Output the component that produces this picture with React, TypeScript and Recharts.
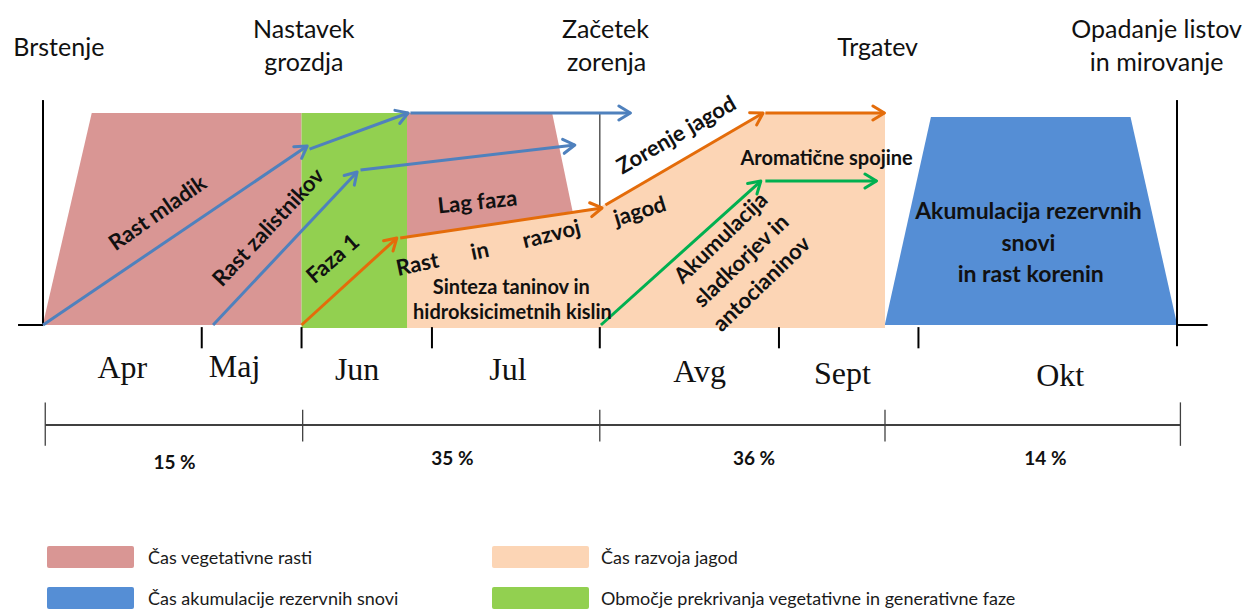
import React from "react";
import {
  ComposedChart,
  Area,
  Line,
  Scatter,
  XAxis,
  YAxis,
  ReferenceLine,
  Legend,
} from "recharts";

const W = 1248;
const H = 609;

// x: position in the season (0 = budburst axis, 100 = dormancy axis)
// y: level inside the bands (0 = baseline, 100 = top of the bands)
const X_DOMAIN: [number, number] = [-3.79, 106.26];
const Y_DOMAIN: [number, number] = [-133.96, 153.3];

const PINK = "#D99694";
const PEACH = "#FCD5B5";
const BLUE_BAND = "#558ED5";
const GREEN_BAND = "#92D050";
const ARROW = { blue: "#4F81BD", orange: "#E46C0A", green: "#00B050" };

// bands, as [low, high] ranges
const vegetativeEarly = [
  { x: 0, r: [0, 0.5] },
  { x: 4.3, r: [0, 100] },
  { x: 22.8, r: [0, 100] },
];
const vegetativeLate = [
  { x: 32.1, r: [41.3, 100] },
  { x: 44.9, r: [52.0, 100] },
  { x: 46.7, r: [53.6, 53.6] },
];
const berryBand = [
  { x: 32.1, r: [-1.4, 41.3] },
  { x: 49.1, r: [-1.4, 55.7] },
  { x: 63.7, r: [-1.4, 100] },
  { x: 74.25, r: [-1.4, 100] },
];
const overlapBand = [
  { x: 22.8, r: [-1.4, 100] },
  { x: 32.1, r: [-1.4, 100] },
];
const reserveBand = [
  { x: 74.25, r: [0, 0.5] },
  { x: 78.3, r: [0, 98.1] },
  { x: 95.9, r: [0, 98.1] },
  { x: 100, r: [0, 0.5] },
];

// arrows
const shootArrows = [
  [{ x: 0, y: 0 }, { x: 23.3, y: 84.4 }],
  [{ x: 23.5, y: 83.0 }, { x: 32.2, y: 100 }],
  [{ x: 32.4, y: 100 }, { x: 51.8, y: 100 }],
];
const lateralArrows = [
  [{ x: 15.0, y: 0 }, { x: 27.7, y: 72.2 }],
  [{ x: 28.0, y: 73.1 }, { x: 46.9, y: 84.9 }],
];
const berryArrows = [
  [{ x: 22.8, y: 0 }, { x: 31.2, y: 41.0 }],
  [{ x: 31.5, y: 41.0 }, { x: 49.3, y: 55.2 }],
  [{ x: 49.6, y: 56.6 }, { x: 63.5, y: 100 }],
  [{ x: 63.7, y: 100 }, { x: 74.2, y: 100 }],
];
const sugarArrows = [
  [{ x: 49.2, y: 0 }, { x: 63.3, y: 67.9 }],
  [{ x: 63.7, y: 67.9 }, { x: 73.5, y: 67.9 }],
];

// axes and time line
const monthTicks = [14.0, 22.8, 34.3, 49.1, 64.9, 77.2];
const shareTicks = [0.2, 22.9, 49.1, 74.25, 100.3];
const shareLineY = -47.2;

const stageLabels = [
  { x: 1.4, y: 131.4, text: "Brstenje" },
  { x: 23.0, y: 140.3, text: "Nastavek" },
  { x: 23.0, y: 124.3, text: "grozdja" },
  { x: 49.6, y: 140.3, text: "Začetek" },
  { x: 49.7, y: 124.3, text: "zorenja" },
  { x: 73.6, y: 131.4, text: "Trgatev" },
  { x: 98.2, y: 140.3, text: "Opadanje listov" },
  { x: 98.2, y: 124.3, text: "in mirovanje" },
];

const monthLabels = [
  { x: 7.0, y: -19.6, text: "Apr" },
  { x: 16.9, y: -19.3, text: "Maj" },
  { x: 27.7, y: -20.8, text: "Jun" },
  { x: 41.0, y: -20.8, text: "Jul" },
  { x: 57.9, y: -21.7, text: "Avg" },
  { x: 70.5, y: -22.6, text: "Sept" },
  { x: 89.7, y: -23.6, text: "Okt" },
];

const shareLabels = [
  { x: 11.6, y: -64.2, text: "15 %" },
  { x: 36.1, y: -62.5, text: "35 %" },
  { x: 62.7, y: -62.5, text: "36 %" },
  { x: 88.4, y: -62.5, text: "14 %" },
];

const processNotes = [
  { x: 10.05, y: 53.3, tilt: -35, text: "Rast mladik" },
  { x: 19.8, y: 46.5, tilt: -47, text: "Rast zalistnikov" },
  { x: 25.5, y: 31.6, tilt: -41, text: "Faza 1" },
  { x: 38.3, y: 58.5, tilt: -6, text: "Lag faza" },
  { x: 33.0, y: 29.2, tilt: -12, text: "Rast" },
  { x: 38.5, y: 35.4, tilt: -12, text: "in" },
  { x: 44.8, y: 43.4, tilt: -14, text: "razvoj" },
  { x: 52.6, y: 54.2, tilt: -17, text: "jagod" },
  { x: 55.8, y: 90.1, tilt: -30, text: "Zorenje jagod" },
  { x: 59.7, y: 41.5, tilt: -44, text: "Akumulacija" },
  { x: 61.5, y: 30.7, tilt: -44, text: "sladkorjev in" },
  { x: 63.3, y: 19.8, tilt: -44, text: "antocianinov" },
];

const compoundNotes = [
  { x: 41.3, y: 18.4, text: "Sinteza taninov in" },
  { x: 41.4, y: 6.6, text: "hidroksicimetnih kislin" },
  { x: 69.1, y: 79.2, text: "Aromatične spojine" },
];

const reserveNotes = [
  { x: 86.9, y: 54.2, text: "Akumulacija rezervnih" },
  { x: 86.9, y: 39.2, text: "snovi" },
  { x: 87.1, y: 24.5, text: "in rast korenin" },
];

const legendItems = [
  { name: "Čas vegetativne rasti", color: PINK },
  { name: "Čas razvoja jagod", color: PEACH },
  { name: "Čas akumulacije rezervnih snovi", color: BLUE_BAND },
  { name: "Območje prekrivanja vegetativne in generativne faze", color: GREEN_BAND },
];

const SANS = "Lato, 'Open Sans', sans-serif";

const textShape =
  (style: React.SVGProps<SVGTextElement>) =>
  (props: any) => {
    const { cx, cy, payload } = props;
    const tilt = payload.tilt ?? 0;
    return (
      <text
        x={cx}
        y={cy}
        textAnchor="middle"
        dominantBaseline="central"
        transform={tilt ? `rotate(${tilt} ${cx} ${cy})` : undefined}
        {...style}
      >
        {payload.text}
      </text>
    );
  };

function ArrowDefs() {
  return (
    <svg width={0} height={0} style={{ position: "absolute" }}>
      <defs>
        {Object.entries(ARROW).map(([k, c]) => (
          <marker
            key={k}
            id={`head-${k}`}
            viewBox="0 0 16 18"
            refX={14}
            refY={9}
            markerWidth={16}
            markerHeight={18}
            markerUnits="userSpaceOnUse"
            orient="auto"
          >
            <path d="M2.5 2 L14 9 L2.5 16" fill="none" stroke={c} strokeWidth={3} strokeLinecap="round" strokeLinejoin="round" />
          </marker>
        ))}
      </defs>
    </svg>
  );
}

const renderLegend = () => (
  <div
    style={{
      display: "grid",
      gridTemplateColumns: "445px auto",
      rowGap: 19,
      fontFamily: SANS,
      fontSize: 18,
      color: "#1a1a1a",
    }}
  >
    {legendItems.map((it, i) => (
      <div key={it.name} style={{ display: "flex", alignItems: "center", height: 22 }}>
        <span
          style={{
            display: "inline-block",
            width: i % 2 ? 97 : 87,
            height: 22,
            background: it.color,
            borderRadius: 2,
            marginRight: i % 2 ? 12 : 14,
          }}
        />
        <span>{it.name}</span>
      </div>
    ))}
  </div>
);

const seg = (a: { x: number; y: number }, b: { x: number; y: number }) =>
  [a, b] as [{ x: number; y: number }, { x: number; y: number }];

export default function App() {
  const arrowGroups: [string, { x: number; y: number }[][]][] = [
    ["blue", shootArrows],
    ["blue", lateralArrows],
    ["orange", berryArrows],
    ["green", sugarArrows],
  ];

  const bands: [typeof berryBand, string][] = [
    [berryBand, PEACH],
    [vegetativeEarly, PINK],
    [vegetativeLate, PINK],
    [overlapBand, GREEN_BAND],
    [reserveBand, BLUE_BAND],
  ];

  return (
    <div style={{ position: "absolute", left: 0, top: 0, width: W, height: H, background: "#fff" }}>
      <ArrowDefs />
      <ComposedChart width={W} height={H} margin={{ top: 0, right: 0, bottom: 0, left: 0 }}>
        <XAxis type="number" dataKey="x" domain={X_DOMAIN} allowDataOverflow hide />
        <YAxis type="number" dataKey="y" domain={Y_DOMAIN} allowDataOverflow hide />

        {bands.map(([band, color], i) => (
          <Area
            key={`b${i}`}
            data={band}
            dataKey="r"
            type="linear"
            fill={color}
            fillOpacity={1}
            stroke="none"
            dot={false}
            activeDot={false}
            isAnimationActive={false}
            legendType="none"
          />
        ))}

        {/* frame of the season */}
        <ReferenceLine segment={seg({ x: 0, y: 0 }, { x: 0, y: 106.1 })} stroke="#000" strokeWidth={2} ifOverflow="visible" />
        <ReferenceLine segment={seg({ x: 100, y: -10 }, { x: 100, y: 106.1 })} stroke="#000" strokeWidth={2} ifOverflow="visible" />
        <ReferenceLine segment={seg({ x: -2.2, y: 0 }, { x: 0, y: 0 })} stroke="#000" strokeWidth={2} ifOverflow="visible" />
        <ReferenceLine segment={seg({ x: 100, y: 0 }, { x: 102.7, y: 0 })} stroke="#000" strokeWidth={2} ifOverflow="visible" />
        {monthTicks.map((t) => (
          <ReferenceLine key={`m${t}`} segment={seg({ x: t, y: -1 }, { x: t, y: -11 })} stroke="#000" strokeWidth={2} ifOverflow="visible" />
        ))}
        <ReferenceLine segment={seg({ x: 49.1, y: 55.7 }, { x: 49.1, y: 100 })} stroke="#595959" strokeWidth={1.5} ifOverflow="visible" />

        {/* share of the season */}
        <ReferenceLine segment={seg({ x: shareTicks[0], y: shareLineY }, { x: shareTicks[shareTicks.length - 1], y: shareLineY })} stroke="#404040" strokeWidth={2} ifOverflow="visible" />
        {shareTicks.map((t, i) => {
          const end = i === 0 || i === shareTicks.length - 1;
          return (
            <ReferenceLine
              key={`s${t}`}
              segment={seg({ x: t, y: end ? -36.5 : -40 }, { x: t, y: end ? -57 : -55 })}
              stroke="#404040"
              strokeWidth={1.3}
              ifOverflow="visible"
            />
          );
        })}

        {arrowGroups.map(([color, list], g) =>
          list.map((pts, i) => (
            <Line
              key={`a${g}-${i}`}
              data={pts}
              dataKey="y"
              type="linear"
              stroke={ARROW[color as keyof typeof ARROW]}
              strokeWidth={3}
              dot={false}
              activeDot={false}
              markerEnd={`url(#head-${color})`}
              isAnimationActive={false}
              legendType="none"
            />
          ))
        )}

        <Scatter data={stageLabels} isAnimationActive={false} legendType="none"
          shape={textShape({ fontFamily: SANS, fontSize: 25, fill: "#111" })} />
        <Scatter data={monthLabels} isAnimationActive={false} legendType="none"
          shape={textShape({ fontFamily: "'Liberation Serif', serif", fontSize: 32, fill: "#111" })} />
        <Scatter data={shareLabels} isAnimationActive={false} legendType="none"
          shape={textShape({ fontFamily: SANS, fontSize: 19, fontWeight: 700, fill: "#111" })} />
        <Scatter data={processNotes} isAnimationActive={false} legendType="none"
          shape={textShape({ fontFamily: SANS, fontSize: 22, fontWeight: 700, fill: "#111" })} />
        <Scatter data={compoundNotes} isAnimationActive={false} legendType="none"
          shape={textShape({ fontFamily: SANS, fontSize: 20, fontWeight: 700, fill: "#111" })} />
        <Scatter data={reserveNotes} isAnimationActive={false} legendType="none"
          shape={textShape({ fontFamily: SANS, fontSize: 23, fontWeight: 700, fill: "#111" })} />

        <Legend
          layout="horizontal"
          verticalAlign="middle"
          align="center"
          content={renderLegend}
          wrapperStyle={{ left: 47, top: 546, width: 1100, height: 63 }}
        />
      </ComposedChart>
    </div>
  );
}
